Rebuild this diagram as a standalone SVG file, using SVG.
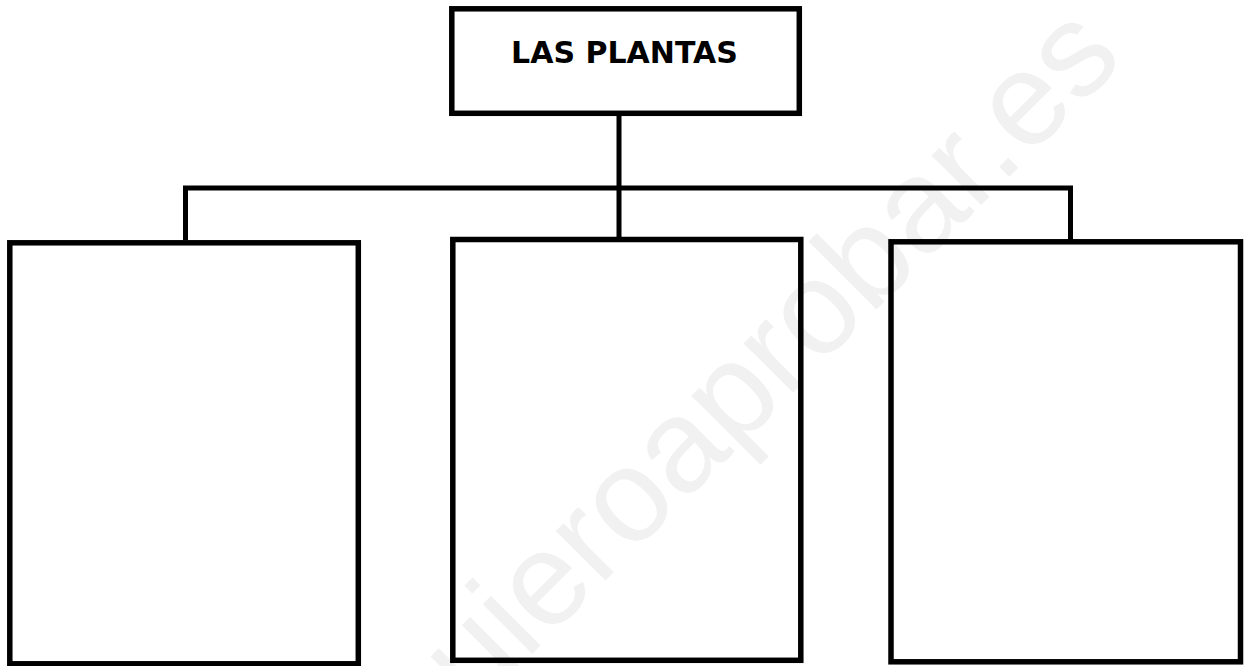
<svg xmlns="http://www.w3.org/2000/svg" width="1248" height="666" viewBox="0 0 1248 666">
<style>
.box{fill:none;stroke:#000;stroke-width:5.5}
.conn{fill:none;stroke:#000;stroke-width:5}
.title{font-family:"DejaVu Sans",sans-serif;font-weight:bold;font-size:30px;fill:#000}
.wm{font-family:"Liberation Sans",Arial,sans-serif;font-size:132.7px;fill:#f1f1f1}
</style>
<rect width="1248" height="666" fill="#fff"/>
<text class="wm" transform="translate(421.7,764.4) rotate(-45)" x="0" y="0">quieroaprobar.es</text>
<g id="connectors">
<line class="conn" x1="619" y1="114" x2="619" y2="239"/>
<line class="conn" x1="183" y1="188" x2="1073" y2="188"/>
<polyline class="conn" points="185.5,240 185.5,188"/>
<polyline class="conn" points="1070.5,240 1070.5,188"/>
</g>
<g id="node-las-plantas">
<rect class="box" x="451.8" y="8.8" width="347.5" height="104.5"/>
<text class="title" x="624.5" y="63.3" text-anchor="middle">LAS PLANTAS</text>
</g>
<g id="node-left">
<rect class="box" x="9.8" y="242.8" width="348.5" height="421"/>
</g>
<g id="node-middle">
<rect class="box" x="452.8" y="239.5" width="348" height="420.8"/>
</g>
<g id="node-right">
<rect class="box" x="891" y="241.8" width="349.5" height="420"/>
</g>
</svg>
